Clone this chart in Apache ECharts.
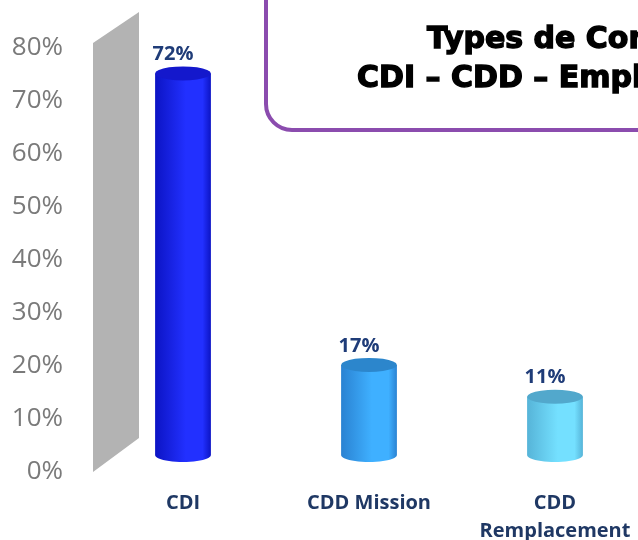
<!DOCTYPE html>
<html>
<head>
<meta charset="utf-8">
<script src="https://cdn.jsdelivr.net/npm/echarts@6/dist/echarts.min.js"></script>
<style>
  html, body { margin: 0; padding: 0; background: #fff; }
  #chart { width: 638px; height: 540px; }
</style>
</head>
<body>
<div id="chart"></div>
<script>
var categories = ['CDI', 'CDD Mission', 'CDD\nRemplacement'];
var values = [72, 17, 11];
var yTicks = [0, 10, 20, 30, 40, 50, 60, 70, 80];
var titleLines = ['Types de Contrats', 'CDI – CDD – Emplois aidés'];

// body edge / centre / top colours for each cylinder
var barColors = [
    { edge: '#0c14c4', mid: '#2230ff', top: '#1418cc' },
    { edge: '#2a82d2', mid: '#3fb0ff', top: '#2c86cc' },
    { edge: '#56b4d8', mid: '#74e0ff', top: '#52a8cc' }
];

var depthShift = 17;

function arcPoints(cx, cy, rx, ry, from, to) {
    var pts = [];
    var n = 24;
    for (var i = 0; i <= n; i++) {
        var a = from + (to - from) * i / n;
        pts.push([cx + rx * Math.cos(a), cy + ry * Math.sin(a)]);
    }
    return pts;
}

function renderCylinder(params, api) {
    var idx = api.value(0);
    var base = api.coord([idx, 0]);
    var top = api.coord([idx, api.value(1)]);
    var bandW = api.size([1, 0])[0];
    var rx = bandW * 0.15;
    var ry = 7;
    var cx = base[0];
    var y0 = base[1] - depthShift;
    var y1 = top[1] - depthShift;
    var c = barColors[idx];

    // left edge down, bottom arc left -> right (through the lower side), right edge up
    var body = [[cx - rx, y1]].concat(arcPoints(cx, y0, rx, ry, Math.PI, 0));
    body.push([cx + rx, y1]);

    var grad = new echarts.graphic.LinearGradient(0, 0, 1, 0, [
        { offset: 0, color: c.edge },
        { offset: 0.55, color: c.mid },
        { offset: 0.85, color: c.mid },
        { offset: 1, color: c.edge }
    ]);

    return {
        type: 'group',
        children: [
            { type: 'polygon', shape: { points: body }, style: { fill: grad } },
            { type: 'polygon', shape: { points: arcPoints(cx, y1, rx, ry, 0, Math.PI * 2) }, style: { fill: c.top } },
            {
                type: 'text',
                x: cx - 10,
                y: y1 - ry - 2,
                style: {
                    text: api.value(1) + '%',
                    fill: '#1f3c78',
                    font: 'bold 20px "Open Sans"',
                    align: 'center',
                    verticalAlign: 'bottom'
                }
            }
        ]
    };
}

var myChart = echarts.init(document.getElementById('chart'));

var option = {
    animation: false,
    grid: { left: 90, top: 48, width: 558, height: 424, outerBoundsMode: 'none' },
    xAxis: {
        type: 'category',
        data: categories,
        axisLine: { show: false },
        axisTick: { show: false },
        axisLabel: {
            interval: 0,
            margin: 17,
            color: '#1f3864',
            fontFamily: 'Open Sans',
            fontWeight: 'bold',
            fontSize: 20,
            lineHeight: 28
        }
    },
    yAxis: {
        type: 'value',
        min: yTicks[0],
        max: yTicks[yTicks.length - 1],
        interval: 10,
        axisLine: { show: false },
        axisTick: { show: false },
        splitLine: { show: false },
        axisLabel: {
            margin: 27,
            color: '#7a7a7a',
            fontFamily: 'Open Sans',
            fontSize: 26,
            formatter: '{value}%'
        }
    },
    graphic: [
        {
            type: 'polygon',
            z: 0,
            shape: { points: [[93, 43], [139, 12], [139, 438], [93, 472]] },
            style: { fill: '#b3b3b3' }
        },
        {
            type: 'rect',
            shape: { x: 266, y: -40, width: 520, height: 170, r: 26 },
            style: { fill: '#fff', stroke: '#8b4cae', lineWidth: 4 }
        },
        {
            type: 'text',
            x: 427, y: 40,
            style: {
                text: titleLines[0],
                font: 'bold 30px "DejaVu Sans"',
                fill: '#000',
                stroke: '#000',
                lineWidth: 1.4,
                verticalAlign: 'middle'
            }
        },
        {
            type: 'text',
            x: 357, y: 79,
            style: {
                text: titleLines[1],
                font: 'bold 30px "DejaVu Sans"',
                fill: '#000',
                stroke: '#000',
                lineWidth: 1.4,
                verticalAlign: 'middle'
            }
        }
    ],
    series: [{
        type: 'custom',
        renderItem: renderCylinder,
        clip: false,
        data: values.map(function (v, i) { return [i, v]; })
    }]
};

myChart.setOption(option);
</script>
</body>
</html>
